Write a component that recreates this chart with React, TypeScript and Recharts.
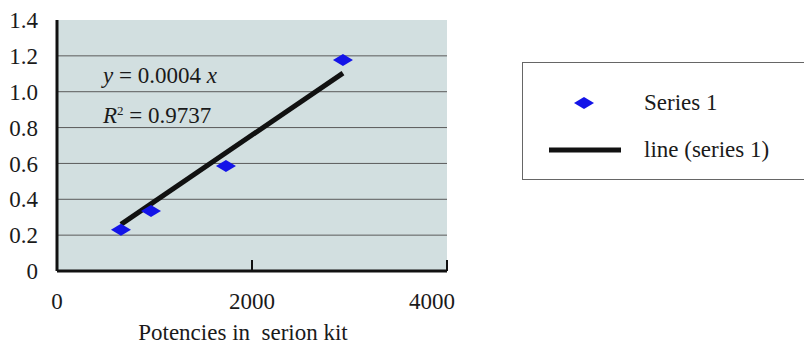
import {
    ScatterChart,
    Scatter,
    XAxis,
    YAxis,
    CartesianGrid,
    Legend,
    Customized,
} from 'recharts';

const pointX = [656, 964, 1733, 2933];
const pointY = [0.23, 0.335, 0.586, 1.177];
const lineX = [656, 2933];
const lineY = [0.26, 1.104];
const xTicks = [0, 2000, 4000];
const yTicks = [0, 0.2, 0.4, 0.6, 0.8, 1.0, 1.2, 1.4];
const gridValues = [0.2, 0.4, 0.6, 0.8, 1.0, 1.2];

const points = pointX.map((x, i) => ({ x, y: pointY[i] }));
const fitLine = lineX.map((x, i) => ({ x, y: lineY[i] }));

const FONT = '"Liberation Serif", "Times New Roman", serif';
const TEXT = '#1a1a1a';
const FS = 23;

const Diamond = (props: any) => {
    const { cx, cy } = props;
    if (cx == null || cy == null) return <g />;
    return (
        <polygon
            points={`${cx - 10},${cy} ${cx},${cy - 6} ${cx + 10},${cy} ${cx},${cy + 6}`}
            fill="#1414e8"
        />
    );
};

// x tick: the inner tick mark is drawn by the axis, the last label sits a bit inside like the original
const XTick = (props: any) => {
    const { x, y, payload, index, visibleTicksCount } = props;
    const last = index === visibleTicksCount - 1;
    return (
        <text
            x={last ? x - 15 : x}
            y={y}
            dy="0.71em"
            textAnchor="middle"
            fontSize={FS}
            fill={TEXT}
            fontFamily={FONT}
        >
            {payload.value}
        </text>
    );
};

const Equation = () => (
    <g fontFamily={FONT} fontSize={FS} fill={TEXT}>
        <text x={103} y={83} style={{ whiteSpace: 'pre' }}>
            <tspan fontStyle="italic">y</tspan>
            <tspan> = 0.0004 </tspan>
            <tspan fontStyle="italic">x</tspan>
        </text>
        <text x={103} y={123} style={{ whiteSpace: 'pre' }}>
            <tspan fontStyle="italic">R</tspan>
            <tspan fontSize={13} dy={-8}>2</tspan>
            <tspan dy={8}> = 0.9737</tspan>
        </text>
    </g>
);

const LegendBox = (props: any) => {
    const payload = props.payload || [];
    return (
        <div
            style={{
                width: 300,
                height: 118,
                boxSizing: 'border-box',
                border: '1px solid #666',
                background: '#fff',
                position: 'relative',
                fontFamily: FONT,
            }}
        >
            <svg width={300} height={116} style={{ position: 'absolute', left: 0, top: 0 }}>
                {payload.map((entry: any, i: number) => {
                    const cy = 40 + i * 47;
                    return (
                        <g key={`leg-${i}`}>
                            {entry.type === 'line' ? (
                                <line x1={26} x2={98} y1={cy} y2={cy} stroke="#111" strokeWidth={5} />
                            ) : (
                                <polygon
                                    points={`${51},${cy} ${61},${cy - 6} ${71},${cy} ${61},${cy + 6}`}
                                    fill="#1414e8"
                                />
                            )}
                            <text x={121} y={cy + 7} fontSize={FS} fill={TEXT}>
                                {entry.value}
                            </text>
                        </g>
                    );
                })}
            </svg>
        </div>
    );
};

export default function App() {
    return (
        <div style={{ position: 'absolute', left: 0, top: 0, width: 804, height: 345, background: '#fff' }}>
            <ScatterChart width={804} height={345} margin={{ top: 20, right: 357, bottom: 0, left: 0 }}>
                <CartesianGrid
                    fill="#d2dfe0"
                    stroke="#5a5a5a"
                    vertical={false}
                    horizontalValues={gridValues}
                />
                <XAxis
                    type="number"
                    dataKey="x"
                    domain={[0, 4000]}
                    ticks={xTicks}
                    height={74}
                    tickSize={-11}
                    tickMargin={33}
                    tickLine={{ stroke: '#111', strokeWidth: 2 }}
                    axisLine={{ stroke: '#111', strokeWidth: 3 }}
                    tick={<XTick />}
                    label={{
                        value: 'Potencies in\u00a0 serion kit',
                        position: 'insideBottom',
                        offset: 5,
                        dx: -9,
                        style: { fontSize: FS, fill: TEXT, fontFamily: FONT },
                    }}
                />
                <YAxis
                    type="number"
                    dataKey="y"
                    domain={[0, 1.4]}
                    ticks={yTicks}
                    width={57}
                    tickSize={0}
                    tickMargin={19}
                    tickLine={false}
                    axisLine={{ stroke: '#111', strokeWidth: 3 }}
                    tick={{ fontSize: FS, fill: TEXT, fontFamily: FONT }}
                    tickFormatter={(v: number) => (v === 0 ? '0' : v.toFixed(1))}
                />
                <Legend
                    layout="horizontal"
                    verticalAlign="middle"
                    align="center"
                    wrapperStyle={{ left: 522, top: 62, width: 300, height: 118 }}
                    content={<LegendBox />}
                />
                <Scatter
                    name="line (series 1)"
                    data={fitLine}
                    legendType="line"
                    line={{ stroke: '#111', strokeWidth: 5 }}
                    shape={() => <g />}
                    isAnimationActive={false}
                />
                <Scatter
                    name="Series 1"
                    data={points}
                    legendType="diamond"
                    shape={<Diamond />}
                    isAnimationActive={false}
                />
                <Customized component={Equation} />
            </ScatterChart>
        </div>
    );
}
